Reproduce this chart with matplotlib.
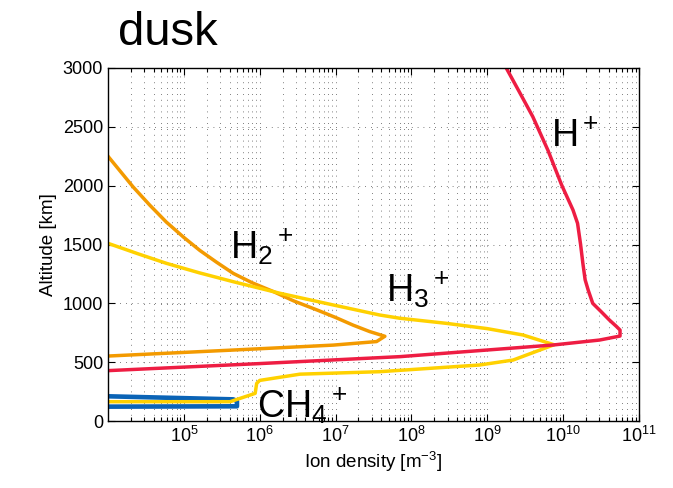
import numpy as np
import matplotlib
matplotlib.use("Agg")
import matplotlib.pyplot as plt
from matplotlib.ticker import LogLocator, FixedLocator, NullFormatter

plt.rcParams['font.family'] = ['Liberation Sans', 'DejaVu Sans']
plt.rcParams['mathtext.fontset'] = 'custom'
plt.rcParams['mathtext.rm'] = 'Liberation Sans'
plt.rcParams['mathtext.it'] = 'Liberation Sans:italic'

# log10(density), altitude [km]
h_logn = [9.25, 9.42, 9.60, 9.80, 9.98, 10.13, 10.19, 10.23, 10.26, 10.29, 10.33, 10.39, 10.50, 10.61, 10.70, 10.75, 10.75, 10.48, 9.87, 7.85, 6.0, 4.0]
h_alt = [3000, 2800, 2586, 2300, 2006, 1793, 1680, 1500, 1340, 1200, 1113, 1000, 930, 858, 805, 773, 722, 688, 646, 547, 488, 428]

h2_logn = [4.0, 4.33, 4.55, 4.77, 5.0, 5.21, 5.43, 5.65, 5.90, 6.18, 6.45, 6.75, 7.0, 7.23, 7.45, 7.65, 7.54, 6.97, 5.65, 4.0]
h2_alt = [2250, 1990, 1835, 1690, 1560, 1450, 1350, 1255, 1175, 1100, 1020, 945, 880, 815, 760, 720, 675, 645, 603, 552]

h3_logn = [4.0, 4.4, 4.77, 5.2, 5.65, 6.27, 6.97, 7.58, 7.85, 8.46, 9.0, 9.47, 9.88, 9.34, 8.90, 7.58, 6.53, 6.0, 5.96, 5.94, 5.61, 4.0]
h3_alt = [1510, 1420, 1340, 1260, 1184, 1085, 986, 901, 873, 830, 785, 731, 648, 518, 476, 419, 398, 345, 320, 235, 164, 164]

ch4_logn = [4.0, 5.65, 5.70, 5.70, 4.0]
ch4_alt = [210, 184, 170, 125, 122]

fig = plt.figure(figsize=(6.73, 4.88), dpi=100)
ax = fig.add_axes([108/673, 1-421/488, (639-108)/673, (421-68)/488])

ax.plot(10**np.array(ch4_logn), ch4_alt, color='#0a63b6', lw=3.3, solid_capstyle='round', solid_joinstyle='round')
ax.plot(10**np.array(h2_logn), h2_alt, color='#f39a00', lw=2.5)
ax.plot(10**np.array(h3_logn), h3_alt, color='#ffd100', lw=2.5)
ax.plot(10**np.array(h_logn), h_alt, color='#ee1d43', lw=2.5)

ax.set_xscale('log')
ax.set_xlim(1e4, 1e11)
ax.set_ylim(0, 3000)
ax.xaxis.set_major_locator(FixedLocator([1e5, 1e6, 1e7, 1e8, 1e9, 1e10, 1e11]))
ax.xaxis.set_minor_locator(LogLocator(base=10, subs=np.arange(2, 10), numticks=20))
ax.xaxis.set_minor_formatter(NullFormatter())
ax.set_xticklabels([r'$10^{%d}$' % k for k in range(5, 12)])
ax.set_yticks(np.arange(0, 3001, 500))

ax.tick_params(which='both', direction='in', top=True, right=True, labelsize=13, width=0.8)
ax.tick_params(which='major', length=5)
ax.tick_params(which='minor', length=3)
grid_kw = dict(color='#555555', ls=(0, (1, 6)), lw=0.6)
ax.grid(True, which='major', axis='both', **grid_kw)
ax.grid(True, which='minor', axis='x', **grid_kw)
ax.set_axisbelow(True)
for s in ax.spines.values():
    s.set_linewidth(1.0)

ax.set_xlabel(r'Ion density [m$^{-3}$]', fontsize=13.5, labelpad=3)
ax.set_ylabel('Altitude [km]', fontsize=13.5, labelpad=4)

lab = dict(fontsize=27, ha='left', va='baseline', clip_on=False)
ax.text(10**9.84, 2331, r'H$^+$', **lab)
ax.text(10**5.61, 1383, r'H$_2$$^+$', **lab)
ax.text(10**7.67, 1014, r'H$_3$$^+$', **lab)
ax.text(10**5.96, 25, r'CH$_4$$^+$', **lab)

fig.text(118/673, 1-45/488, 'dusk', fontsize=34, ha='left', va='baseline')

fig.savefig('out.png', dpi=100)
